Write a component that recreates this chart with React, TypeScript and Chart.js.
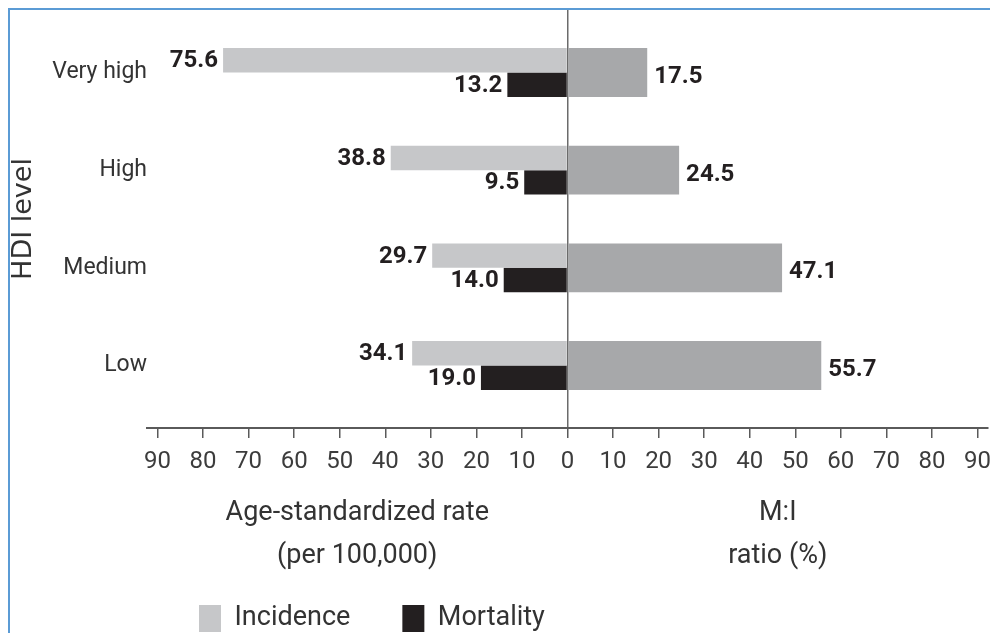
import React, { useEffect, useRef } from "react";
import { Chart, registerables } from "chart.js";

Chart.register(...registerables);

// ---- data ----
const categories = ["Very high", "High", "Medium", "Low"];
const incidence = [75.6, 38.8, 29.7, 34.1];
const mortality = [13.2, 9.5, 14.0, 19.0];
const miRatio = [17.5, 24.5, 47.1, 55.7];
const xTickValues = [-90, -80, -70, -60, -50, -40, -30, -20, -10, 0, 10, 20, 30, 40, 50, 60, 70, 80, 90];
const seriesNames = ["Incidence", "Mortality", "M:I ratio"];
const leftTitle = ["Age-standardized rate", "(per 100,000)"];
const rightTitle = ["M:I", "ratio (%)"];
const yTitle = "HDI level";

const COLORS = {
  incidence: "#c6c7c9",
  mortality: "#231f20",
  ratio: "#a7a8aa",
  text: "#333333",
  axis: "#5a5a5a",
};

const valueLabelPlugin = {
  id: "valueLabels",
  afterDatasetsDraw(chart: any) {
    const ctx = chart.ctx;
    ctx.save();
    ctx.font = "bold 24px Roboto, 'DejaVu Sans', sans-serif";
    ctx.fillStyle = "#231f20";
    ctx.textBaseline = "middle";
    chart.data.datasets.forEach((ds: any, di: number) => {
      const meta = chart.getDatasetMeta(di);
      meta.data.forEach((el: any, i: number) => {
        const raw = ds.data[i].x;
        const txt = Math.abs(raw).toFixed(1);
        if (raw < 0) {
          ctx.textAlign = "right";
          ctx.fillText(txt, el.x - 5, el.y + 1);
        } else {
          ctx.textAlign = "left";
          ctx.fillText(txt, el.x + 7, el.y + 4.5);
        }
      });
    });
    ctx.restore();
  },
};

const xTitlesPlugin = {
  id: "xTitles",
  afterDraw(chart: any) {
    const ctx = chart.ctx;
    const ca = chart.chartArea;
    const x0 = chart.scales.x.getPixelForValue(0);
    const lc = (ca.left + x0) / 2;
    const rc = (x0 + ca.right) / 2;
    ctx.save();
    ctx.font = "27px Roboto, 'DejaVu Sans', sans-serif";
    ctx.fillStyle = COLORS.text;
    ctx.textAlign = "center";
    ctx.textBaseline = "middle";
    const y1 = ca.bottom + 85;
    const y2 = ca.bottom + 128;
    ctx.fillText(leftTitle[0], lc, y1);
    ctx.fillText(leftTitle[1], lc, y2);
    ctx.fillText(rightTitle[0], rc, y1);
    ctx.fillText(rightTitle[1], rc, y2);
    ctx.restore();
  },
};

export default function App() {
  const ref = useRef<HTMLCanvasElement>(null);

  useEffect(() => {
    if (!ref.current) return;
    const chart = new Chart(ref.current, {
      type: "bar",
      data: {
        datasets: [
          {
            label: seriesNames[0],
            data: incidence.map((v, i) => ({ x: -v, y: i })),
            backgroundColor: COLORS.incidence,
            borderWidth: 0,
            categoryPercentage: 0.5,
            barPercentage: 1,
          },
          {
            label: seriesNames[1],
            data: mortality.map((v, i) => ({ x: -v, y: i })),
            backgroundColor: COLORS.mortality,
            borderWidth: 0,
            categoryPercentage: 0.5,
            barPercentage: 1,
          },
          {
            label: seriesNames[2],
            data: miRatio.map((v, i) => ({ x: v, y: i })),
            backgroundColor: COLORS.ratio,
            borderWidth: 0,
            grouped: false,
            categoryPercentage: 1,
            barPercentage: 0.5,
          } as any,
        ],
      },
      options: {
        indexAxis: "y",
        responsive: false,
        animation: false,
        events: [],
        layout: { padding: { left: 0, right: 2, top: 0, bottom: 0 } },
        scales: {
          x: {
            type: "linear",
            min: -92.3,
            max: 92.3,
            bounds: "data",
            offset: false,
            afterBuildTicks: (s: any) => {
              s.ticks = xTickValues.map((v) => ({ value: v }));
            },
            afterFit: (s: any) => {
              s.height = 125;
              s.paddingLeft = 0;
              s.paddingRight = 0;
            },
            grid: {
              color: (c: any) => (c.tick && c.tick.value === 0 ? "#6b6b6b" : "rgba(0,0,0,0)"),
              lineWidth: 1.5,
              tickColor: COLORS.axis,
              tickWidth: 1.5,
              tickLength: 10,
              drawOnChartArea: true,
              offset: false,
            },
            border: { display: true, color: COLORS.axis, width: 2 },
            ticks: {
              autoSkip: false,
              maxRotation: 0,
              padding: 10,
              color: "#3c3c3c",
              font: { family: "Roboto, 'DejaVu Sans', sans-serif", size: 24 },
              callback: (v: any) => String(Math.abs(Number(v))),
            },
          },
          y: {
            type: "linear",
            reverse: true,
            min: -0.64,
            max: 3.64,
            bounds: "data",
            offset: false,
            afterBuildTicks: (s: any) => {
              s.ticks = categories.map((_, i) => ({ value: i }));
            },
            afterFit: (s: any) => {
              s.width = 137;
              s.paddingTop = 0;
              s.paddingBottom = 0;
            },
            grid: { display: false, drawTicks: false, offset: false },
            border: { display: false },
            ticks: {
              autoSkip: false,
              padding: 0,
              labelOffset: 0,
              color: COLORS.text,
              font: { family: "Roboto, 'DejaVu Sans', sans-serif", size: 23 },
              callback: (v: any) => categories[Number(v)] ?? "",
            },
            title: {
              display: true,
              text: yTitle,
              color: COLORS.text,
              padding: 0,
              font: { family: "'DejaVu Sans', sans-serif", size: 27, lineHeight: 1 },
            },
          },
        },
        plugins: {
          legend: {
            display: true,
            position: "bottom",
            align: "start",
            fullSize: false,
            labels: {
              boxWidth: 22,
              boxHeight: 27,
              padding: 52,
              color: COLORS.text,
              font: { family: "Roboto, 'DejaVu Sans', sans-serif", size: 27 },
              filter: (item: any) => item.datasetIndex !== 2,
            },
          },
          tooltip: { enabled: false },
        },
      } as any,
      plugins: [valueLabelPlugin, xTitlesPlugin],
    });
    return () => chart.destroy();
  }, []);

  return (
    <div
      style={{
        position: "fixed",
        left: 8,
        top: 8,
        width: 982,
        height: 625,
        boxSizing: "border-box",
        borderTop: "2px solid #5b9bd5",
        borderLeft: "2px solid #5b9bd5",
        overflow: "hidden",
        background: "#ffffff",
      }}
    >
      <canvas ref={ref} width={980} height={632} style={{ display: "block" }} />
    </div>
  );
}
